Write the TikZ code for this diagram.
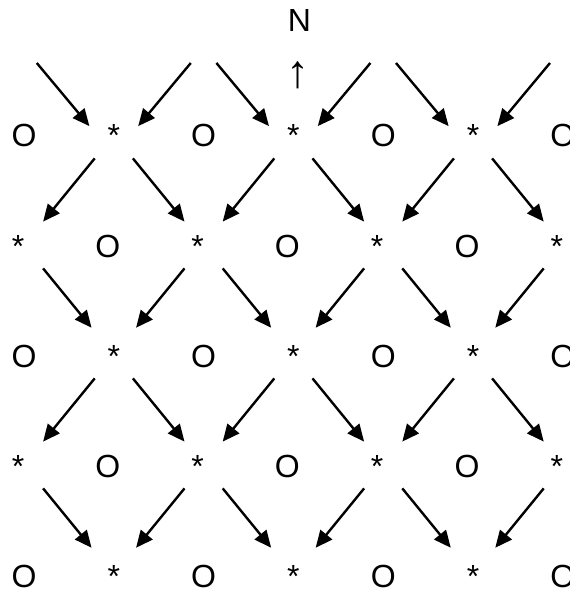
\documentclass[tikz,border=0pt]{standalone}
\usepackage{fontspec}
\setmainfont{Liberation Sans}
\usetikzlibrary{arrows.meta}

\begin{document}
\begin{tikzpicture}[
  x=1pt, y=-1pt,
  font=\fontsize{32}{38}\selectfont,
  cell/.style={circle, inner sep=0pt, minimum size=40pt, text height=24pt, text depth=0pt,
    execute at end node={\kern#1pt}},
  cell/.default=0,
  arr/.style={-{Triangle[length=17pt, width=15pt]}, line width=2.4pt},
  fanout/.style={arr, shorten <=10pt, shorten >=10pt},
  fanin/.style={arr, shorten <=10pt, shorten >=15pt}
]
  \useasboundingbox (0,0) rectangle (569,593);

  % compass mark
  \node (north) at (299.5,20) {N};
  \node[font=\fontsize{46}{50}\selectfont] (uparrow) at (297.5,75) {↑};

  % rows of O and *, even rows sit a little to the left
  \foreach \r/\y/\kk in {1/135/0, 2/245/12, 3/355/0, 4/465/12, 5/575/0}
    \foreach \c in {0,...,6} {
      \pgfmathtruncatemacro\k{mod(\r+\c,2)}
      \node[cell=\kk] (n-\r-\c) at (24+89.8*\c, \y) {\ifnum\k=1 O\else *\fi};
    }

  % arrows coming in from above
  \foreach \c in {1,3,5} {
    \coordinate (tl-\c) at (24+89.8*\c-77, 63);
    \coordinate (tr-\c) at (24+89.8*\c+77, 63);
    \draw[arr, shorten >=7pt] (tl-\c) -- (n-1-\c.170);
    \draw[arr, shorten >=7pt] (tr-\c) -- (n-1-\c.10);
  }

  % each * sends two arrows down
  \foreach \r in {1,3}
    \foreach \c in {1,3,5} {
      \pgfmathtruncatemacro\s{\r+1}
      \pgfmathtruncatemacro\l{\c-1}
      \pgfmathtruncatemacro\h{\c+1}
      \draw[fanout] (n-\r-\c) -- (n-\s-\l);
      \draw[fanout] (n-\r-\c) -- (n-\s-\h);
    }
  \foreach \r in {3,5}
    \foreach \c in {1,3,5} {
      \pgfmathtruncatemacro\p{\r-1}
      \pgfmathtruncatemacro\l{\c-1}
      \pgfmathtruncatemacro\h{\c+1}
      \draw[fanin] (n-\p-\l) -- (n-\r-\c);
      \draw[fanin] (n-\p-\h) -- (n-\r-\c);
    }
\end{tikzpicture}
\end{document}
